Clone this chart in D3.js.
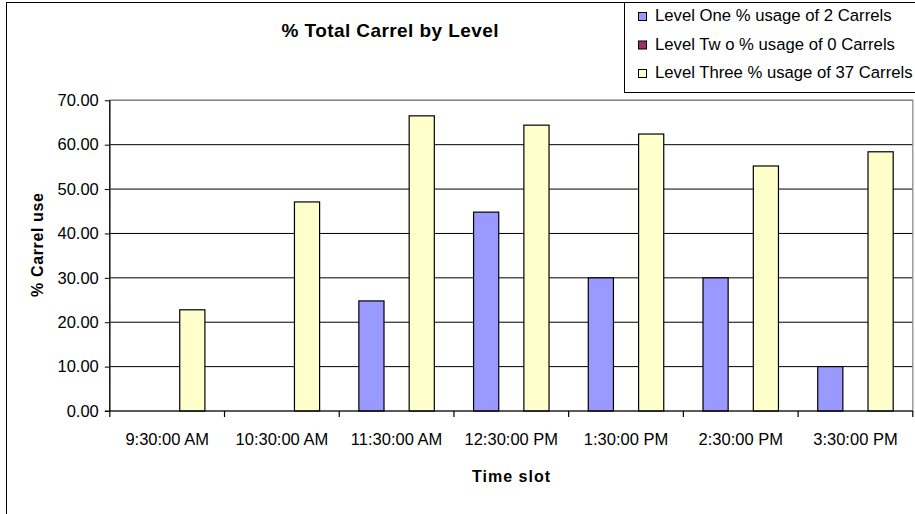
<!DOCTYPE html>
<html>
<head>
<meta charset="utf-8">
<script src="https://cdn.jsdelivr.net/npm/d3@7"></script>
<style>
  html, body { margin: 0; padding: 0; background: #fff; }
  svg { display: block; font-family: "Liberation Sans", Arial, sans-serif; }
</style>
</head>
<body>
<svg id="chart" width="915" height="514"></svg>
<script>
const categories = ["9:30:00 AM", "10:30:00 AM", "11:30:00 AM", "12:30:00 PM", "1:30:00 PM", "2:30:00 PM", "3:30:00 PM"];
const seriesNames = ["Level One % usage of 2 Carrels", "Level Tw o % usage of 0 Carrels", "Level Three % usage of 37 Carrels"];
const levelOne = [0, 0, 24.8, 44.8, 30.0, 30.0, 10.0];
const levelTwo = [0, 0, 0, 0, 0, 0, 0];
const levelThree = [22.8, 47.1, 66.5, 64.4, 62.4, 55.2, 58.4];
const yTicks = [0, 10, 20, 30, 40, 50, 60, 70];
const seriesColors = ["#9999FF", "#993366", "#FFFFCC"];
const titleText = "% Total Carrel by Level";
const xTitle = "Time slot";
const yTitle = "% Carrel use";

const seriesValues = [levelOne, levelTwo, levelThree];
const svg = d3.select("#chart");

// outer chart border
svg.append("rect").attr("x", 6.5).attr("y", 2.5).attr("width", 1000).attr("height", 1000)
  .attr("fill", "#fff").attr("stroke", "#000").attr("stroke-width", 1);

const plot = { left: 109.8, right: 912.8, top: 100.3, bottom: 411 };

const x0 = d3.scaleBand().domain(categories).range([plot.left, plot.right]).padding(0);
const x1 = d3.scaleBand().domain(d3.range(seriesNames.length)).range([0, x0.bandwidth()])
  .paddingInner(0).paddingOuter(0.78);
const y = d3.scaleLinear().domain([0, 70]).range([plot.bottom, plot.top]);

// gridlines
svg.append("g").selectAll("line").data(yTicks.slice(1)).join("line")
  .attr("x1", plot.left).attr("x2", plot.right)
  .attr("y1", d => y(d)).attr("y2", d => y(d))
  .attr("stroke", "#000").attr("stroke-width", 1);

// plot area border (grey)
svg.append("rect").attr("x", plot.left).attr("y", plot.top)
  .attr("width", plot.right - plot.left).attr("height", plot.bottom - plot.top)
  .attr("fill", "none").attr("stroke", "#8c8c8c").attr("stroke-width", 1.3);

// bars
const groups = svg.append("g").selectAll("g").data(categories).join("g")
  .attr("transform", c => `translate(${x0(c)},0)`);
groups.each(function(c, ci) {
  d3.select(this).selectAll("rect").data(seriesValues.map((s, si) => ({ si, v: s[ci] })).filter(d => d.v > 0))
    .join("rect")
    .attr("x", d => x1(d.si))
    .attr("width", x1.bandwidth())
    .attr("y", d => y(d.v))
    .attr("height", d => y(0) - y(d.v))
    .attr("fill", d => seriesColors[d.si])
    .attr("stroke", "#000").attr("stroke-width", 1.2);
});

// y axis
const yAxis = d3.axisLeft(y).tickValues(yTicks).tickFormat(d3.format(".2f")).tickSize(5).tickPadding(6);
const gy = svg.append("g").attr("transform", `translate(${plot.left},0)`).call(yAxis);
gy.select(".domain").attr("d", `M-0,${plot.top}V${plot.bottom}`).attr("stroke", "#000").attr("stroke-width", 1.2);
gy.selectAll(".tick line").attr("stroke", "#000");
gy.selectAll(".tick text").attr("font-size", 16.5).attr("fill", "#000")
  .attr("font-family", "Liberation Sans, Arial, sans-serif");

// x axis
const xAxis = d3.axisBottom(x0).tickSize(0).tickPadding(0);
const gx = svg.append("g").attr("transform", `translate(0,${plot.bottom})`).call(xAxis);
gx.select(".domain").attr("d", `M${plot.left - 5},0H${plot.right}`).attr("stroke", "#000").attr("stroke-width", 1.2);
gx.selectAll(".tick text").attr("font-size", 16.5).attr("fill", "#000").attr("dy", 0).attr("y", 34)
  .attr("font-family", "Liberation Sans, Arial, sans-serif");
// category boundary tick marks
svg.append("g").selectAll("line").data(d3.range(categories.length + 1)).join("line")
  .attr("x1", i => plot.left + i * x0.step()).attr("x2", i => plot.left + i * x0.step())
  .attr("y1", plot.bottom).attr("y2", plot.bottom + 6)
  .attr("stroke", "#000").attr("stroke-width", 1.2);

// titles
svg.append("text").attr("x", 390).attr("y", 37).attr("text-anchor", "middle")
  .attr("font-size", 19).attr("font-weight", "bold").attr("textLength", 217).attr("lengthAdjust", "spacing")
  .text(titleText);
svg.append("text").attr("x", 511).attr("y", 482).attr("text-anchor", "middle")
  .attr("font-size", 16).attr("font-weight", "bold").attr("textLength", 78).attr("lengthAdjust", "spacing")
  .text(xTitle);
svg.append("text").attr("transform", "translate(43,245) rotate(-90)").attr("text-anchor", "middle")
  .attr("font-size", 16).attr("font-weight", "bold").attr("textLength", 104).attr("lengthAdjust", "spacing")
  .text(yTitle);

// legend
const lg = svg.append("g");
lg.append("rect").attr("x", 624.5).attr("y", 2.5).attr("width", 400).attr("height", 90)
  .attr("fill", "#fff").attr("stroke", "#000").attr("stroke-width", 1);
const rows = lg.selectAll("g.row").data(seriesNames).join("g").attr("class", "row")
  .attr("transform", (d, i) => `translate(0,${21 + i * 28.5})`);
rows.append("rect").attr("x", 638.5).attr("y", -8.5).attr("width", 8).attr("height", 8)
  .attr("fill", (d, i) => seriesColors[i]).attr("stroke", "#000").attr("stroke-width", 1);
rows.append("text").attr("x", 655).attr("y", 0).attr("font-size", 16.7).attr("fill", "#000").text(d => d);
</script>
</body>
</html>
